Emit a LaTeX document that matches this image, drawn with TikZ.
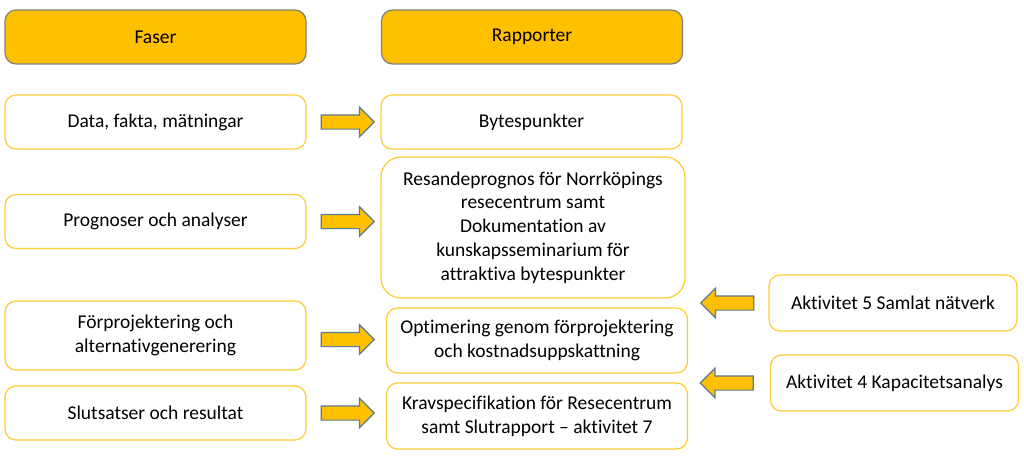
\documentclass[tikz,border=0pt]{standalone}
\usepackage{fontspec}
\setmainfont{Carlito}[Ligatures={NoCommon}]
\usetikzlibrary{positioning, shapes.arrows}
\definecolor{gold}{HTML}{FFC000}
\definecolor{boxline}{HTML}{FFCC33}
\definecolor{headline}{HTML}{808080}
\definecolor{arrowline}{HTML}{5B7A96}

\begin{document}
\begin{tikzpicture}[x=0.02cm, y=-0.02cm, node distance=0.28cm,
  box/.style={draw=boxline, fill=white, line width=0.7pt, rounded corners=0.22cm, text centered, align=center, minimum width=6.02cm, minimum height=1.08cm, inner sep=0pt, font=\fontsize{11.1}{13.5}\selectfont},
  headbox/.style={box, draw=headline, fill=gold},
  sidebox/.style={box, minimum width=4.96cm, minimum height=1.12cm},
  blockarrow/.style={single arrow, draw=arrowline, fill=gold, line width=0.7pt, minimum height=1.06cm, inner xsep=0pt, inner ysep=0.13cm, single arrow head extend=0.15cm}]

  \useasboundingbox (0,0) rectangle (1024,457);

  % Nodes
  \node[headbox] (faser) at (155.5,37) {Faser};
  \node[headbox] (rapporter) at (532,37) {Rapporter};

  \node[box] (data) at (155.5,122) {Data, fakta, mätningar};
  \node[box] (prognoser) at (155.5,221.5) {Prognoser och analyser};
  \node[box, minimum height=1.38cm] (forproj) at (155.5,335.5) {Förprojektering och\\alternativgenerering};
  \node[box] (slutsatser) at (155.5,413) {Slutsatser och resultat};

  \node[box] (byte) at (531.5,122) {Bytespunkter};
  \node[box, minimum width=6.08cm, minimum height=2.82cm, rounded corners=0.4cm] (resande) at (533,227.5) {Resandeprognos för Norrköpings\\resecentrum samt\\Dokumentation av\\kunskapsseminarium för\\attraktiva bytespunkter};
  \node[box, minimum height=1.3cm] (optimering) at (537,340.5) {Optimering genom förprojektering\\och kostnadsuppskattning};
  \node[box, minimum height=1.32cm] (krav) at (537,416) {Kravspecifikation för Resecentrum\\samt Slutrapport -- aktivitet 7};

  \node[sidebox] (akt5) at (893,303) {Aktivitet 5 Samlat nätverk};
  \node[sidebox] (akt4) at (894.5,383) {Aktivitet 4 Kapacitetsanalys};

  % Arrows
  \node[blockarrow, right=of data] (a1) {};
  \node[blockarrow, right=of prognoser] (a2) {};
  \node[blockarrow, right=of forproj, yshift=-0.08cm] (a3) {};
  \node[blockarrow, right=of slutsatser] (a4) {};
  \node[blockarrow, shape border rotate=180, left=0.28cm of akt5] (a5) {};
  \node[blockarrow, shape border rotate=180, left=0.32cm of akt4] (a6) {};

\end{tikzpicture}
\end{document}
